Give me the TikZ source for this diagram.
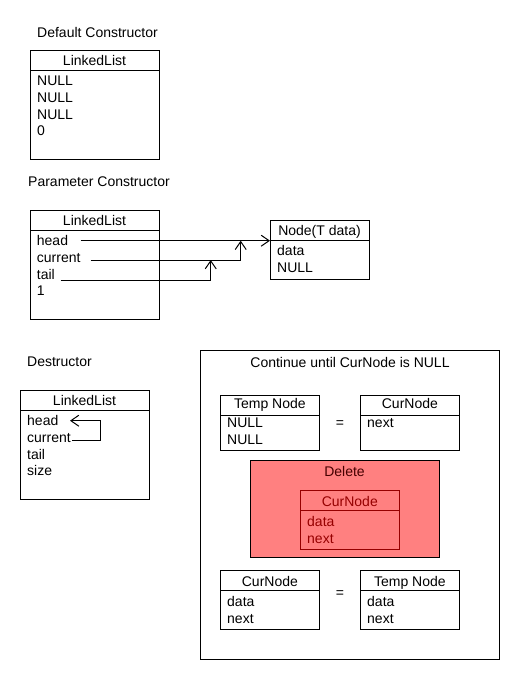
\documentclass[tikz,border=0pt]{standalone}
\usepackage{fontspec}
\setmainfont{Liberation Sans}
\usetikzlibrary{arrows.meta}
\definecolor{delfill}{RGB}{255,128,128}
\definecolor{delred}{RGB}{150,0,0}
\definecolor{deltitle}{RGB}{70,0,0}
\begin{document}
\begin{tikzpicture}[x=1pt,y=-1pt,
  every node/.style={font=\fontsize{14}{16}\selectfont},
  umlbox/.style={draw,line width=1pt,inner sep=0pt,outer sep=0pt,anchor=north west},
  hline/.style={line width=1pt},
  txt/.style={inner sep=0pt,anchor=base west},
  ctxt/.style={inner sep=0pt,anchor=base},
  link/.style={line width=1pt,-{Straight Barb[length=8pt,width=11pt,line width=1pt]}}]
\useasboundingbox[fill=white] (0,0) rectangle (520,680);

% ---------- Default constructor ----------
\node[txt] (t1) at (37,37.3) {Default Constructor};
\node[umlbox,minimum width=129,minimum height=108.3] (ll1) at (30,50.7) {};
\draw[hline] ([yshift=-20pt]ll1.north west) -- ([yshift=-20pt]ll1.north east);
\node[ctxt] (ll1h) at (94.5,65.7) {LinkedList};
\node[txt] (ll1a) at (37,85.7) {NULL};
\node[txt] (ll1b) at (37,102.4) {NULL};
\node[txt] (ll1c) at (37,119.1) {NULL};
\node[txt] (ll1d) at (37,135.8) {0};

% ---------- Parameter constructor ----------
\node[txt] (t2) at (28,186.7) {Parameter Constructor};
\node[umlbox,minimum width=129,minimum height=108.3] (ll2) at (30,210.7) {};
\draw[hline] ([yshift=-20pt]ll2.north west) -- ([yshift=-20pt]ll2.north east);
\node[ctxt] (ll2h) at (94.5,225.7) {LinkedList};
\node[txt] (ll2a) at (36.7,245.7) {head};
\node[txt] (ll2b) at (36.7,262.4) {current};
\node[txt] (ll2c) at (36.7,279.1) {tail};
\node[txt] (ll2d) at (36.7,295.8) {1};

\node[umlbox,minimum width=99,minimum height=58.3] (nd) at (270,220.7) {};
\draw[hline] ([yshift=-20pt]nd.north west) -- ([yshift=-20pt]nd.north east);
\node[ctxt] (ndh) at (319.5,235.7) {Node(T data)};
\node[txt] (nda) at (277,255.7) {data};
\node[txt] (ndb) at (277,272.4) {NULL};

\coordinate (hs) at (80.7,240.7);
\coordinate (cs) at (90.7,260);
\coordinate (ts) at (60.7,280);
\coordinate (ndin) at ([yshift=-20pt]nd.north west);
\coordinate (cj) at (240.7,240.7);
\coordinate (tj) at (210.7,260);
\draw[link] (hs) -- (ndin);
\draw[link] (cs) -| (cj);
\draw[link] (ts) -| (tj);

% ---------- Destructor ----------
\node[txt] (t3) at (27,366.7) {Destructor};
\node[umlbox,minimum width=129,minimum height=108.3] (ll3) at (20,390.7) {};
\draw[hline] ([yshift=-20pt]ll3.north west) -- ([yshift=-20pt]ll3.north east);
\node[ctxt] (ll3h) at (84.5,405.7) {LinkedList};
\node[txt] (ll3a) at (27,425.7) {head};
\node[txt] (ll3b) at (27,442.4) {current};
\node[txt] (ll3c) at (27,459.1) {tail};
\node[txt] (ll3d) at (27,475.8) {size};
\coordinate (ds) at (72,440);
\coordinate (dc) at (100,420.7);
\coordinate (de) at (70,420.7);
\draw[link] (ds) -| (dc) -- (de);

% ---------- Loop frame ----------
\node[umlbox,minimum width=299,minimum height=309] (loop) at (200,350) {};
\node[ctxt] (looph) at (350,367) {Continue until CurNode is NULL};

\node[umlbox,minimum width=98.3,minimum height=55] (tn1) at (220.7,395.5) {};
\draw[hline] ([yshift=-19.5pt]tn1.north west) -- ([yshift=-19.5pt]tn1.north east);
\node[ctxt] (tn1h) at (269.9,408.5) {Temp Node};
\node[txt] (tn1a) at (227,427.3) {NULL};
\node[txt] (tn1b) at (227,444) {NULL};
\node[ctxt] (eq1) at (340,427) {=};
\node[umlbox,minimum width=98.3,minimum height=55] (cn1) at (360.7,395.5) {};
\draw[hline] ([yshift=-19.5pt]cn1.north west) -- ([yshift=-19.5pt]cn1.north east);
\node[ctxt] (cn1h) at (409.9,408.5) {CurNode};
\node[txt] (cn1a) at (367,427.3) {next};

% Delete block
\node[umlbox,fill=delfill,minimum width=189,minimum height=97] (del) at (250,460) {};
\node[ctxt,text=deltitle] (delh) at (344.5,476.7) {Delete};
\node[umlbox,draw=delred,minimum width=99.7,minimum height=58.3] (cnd) at (300,490.7) {};
\draw[hline,delred] ([yshift=-20pt]cnd.north west) -- ([yshift=-20pt]cnd.north east);
\node[ctxt,text=delred] (cndh) at (349.8,506.5) {CurNode};
\node[txt,text=delred] (cnda) at (307,526.7) {data};
\node[txt,text=delred] (cndb) at (307,543.3) {next};

% bottom assignment
\node[umlbox,minimum width=98.3,minimum height=59] (cn2) at (220.7,570) {};
\draw[hline] ([yshift=-20.7pt]cn2.north west) -- ([yshift=-20.7pt]cn2.north east);
\node[ctxt] (cn2h) at (269.9,586.5) {CurNode};
\node[txt] (cn2a) at (227,606.7) {data};
\node[txt] (cn2b) at (227,623.4) {next};
\node[ctxt] (eq2) at (340,597) {=};
\node[umlbox,minimum width=98.3,minimum height=59] (tn2) at (360.7,570) {};
\draw[hline] ([yshift=-20.7pt]tn2.north west) -- ([yshift=-20.7pt]tn2.north east);
\node[ctxt] (tn2h) at (409.9,586.5) {Temp Node};
\node[txt] (tn2a) at (367,606.7) {data};
\node[txt] (tn2b) at (367,623.4) {next};
\end{tikzpicture}
\end{document}
